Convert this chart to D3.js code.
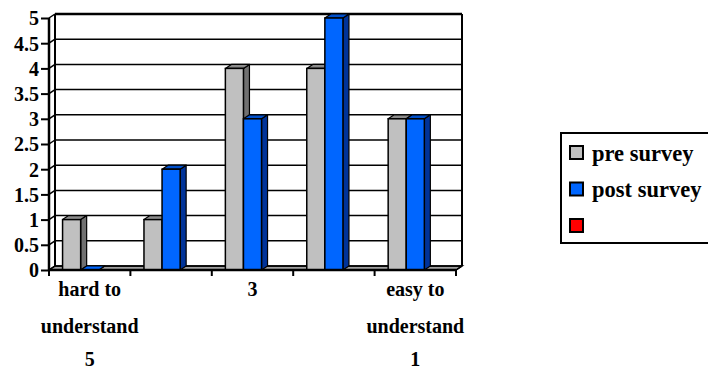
<!DOCTYPE html>
<html>
<head>
<meta charset="utf-8">
<script src="https://cdn.jsdelivr.net/npm/d3@7"></script>
<style>
  html, body { margin: 0; padding: 0; background: #fff; }
</style>
</head>
<body>
<svg id="chart" width="708" height="370"></svg>
<script>
// Survey answers: how easy the material was to understand (5 = hard, 1 = easy)
const categories = ["5", "4", "3", "2", "1"];
const categoryLabels = [["hard to", "understand", "5"], [], ["3"], [], ["easy to", "understand", "1"]];
const seriesNames = ["pre survey", "post survey", ""];
const preSurvey = [1, 1, 4, 4, 3];
const postSurvey = [0, 2, 3, 5, 3];
const thirdSeries = [null, null, null, null, null];
const yTicks = [0, 0.5, 1, 1.5, 2, 2.5, 3, 3.5, 4, 4.5, 5];

const FONT = "Liberation Serif, Tinos, Times New Roman, DejaVu Serif, serif";
const seriesValues = [preSurvey, postSurvey, thirdSeries];
const colors = [
  { front: "#c0c0c0", side: "#707070", top: "#8c8c8c" },
  { front: "#0066ff", side: "#003399", top: "#0050cc" },
  { front: "#ff0000", side: "#990000", top: "#cc0000" }
];

const svg = d3.select("#chart");
const dx = 6, dy = -4;               // depth offset of the 3-D box
const x0 = 49, x1 = 456;

const x = d3.scaleBand().domain(categories).range([x0, x1]).padding(0);
const xs = d3.scaleBand().domain(d3.range(seriesNames.length))
  .range([0, x.bandwidth()]).paddingInner(0).paddingOuter(0.75);
const y = d3.scaleLinear().domain([0, 5]).range([270, 18]);

const g = svg.append("g");

// floor
const y0 = y(0);
g.append("path")
  .attr("d", `M${x0},${y0} L${x1},${y0} L${x1 + dx},${y0 + dy} L${x0 + dx},${y0 + dy} Z`)
  .attr("fill", "#a0a0a0").attr("stroke", "#000").attr("stroke-width", 1.5);

// back wall gridlines and left wall segments
yTicks.forEach(t => {
  const yy = y(t);
  g.append("line")
    .attr("x1", x0 + dx).attr("x2", x1 + dx)
    .attr("y1", yy + dy).attr("y2", yy + dy)
    .attr("stroke", "#000").attr("stroke-width", t === 5 ? 2.5 : 1.5);
  g.append("line")
    .attr("x1", x0).attr("x2", x0 + dx)
    .attr("y1", yy).attr("y2", yy + dy)
    .attr("stroke", "#000").attr("stroke-width", 1.5);
});

// wall edges
g.append("line").attr("x1", x0 + dx).attr("x2", x0 + dx)
  .attr("y1", y(5) + dy).attr("y2", y0 + dy).attr("stroke", "#000").attr("stroke-width", 2);
g.append("line").attr("x1", x1 + dx).attr("x2", x1 + dx)
  .attr("y1", y(5) + dy).attr("y2", y0 + dy).attr("stroke", "#000").attr("stroke-width", 2);
g.append("line").attr("x1", x0).attr("x2", x0)
  .attr("y1", y(5)).attr("y2", y0).attr("stroke", "#000").attr("stroke-width", 2.5);

// bars, drawn left to right so each front face covers the previous side face
categories.forEach((c, ci) => {
  seriesValues.forEach((vals, si) => {
    const v = vals[ci];
    if (v === null || v === undefined) return;
    const bx = x(c) + xs(si);
    const bw = xs.bandwidth();
    const top = y(v);
    const col = colors[si];
    const bar = g.append("g");
    // side face
    bar.append("path")
      .attr("d", `M${bx + bw},${y0} L${bx + bw + dx},${y0 + dy} L${bx + bw + dx},${top + dy} L${bx + bw},${top} Z`)
      .attr("fill", col.side).attr("stroke", "#000").attr("stroke-width", 1.2).attr("stroke-linejoin", "round");
    // top face
    bar.append("path")
      .attr("d", `M${bx},${top} L${bx + dx},${top + dy} L${bx + bw + dx},${top + dy} L${bx + bw},${top} Z`)
      .attr("fill", v === 0 ? col.front : col.top).attr("stroke", "#000").attr("stroke-width", 1.2).attr("stroke-linejoin", "round");
    // front face
    if (v > 0) {
      bar.append("rect")
        .attr("x", bx).attr("y", top).attr("width", bw).attr("height", y0 - top)
        .attr("fill", col.front).attr("stroke", "#000").attr("stroke-width", 1.5);
    }
  });
});

// front axis line
g.append("line").attr("x1", x0).attr("x2", x1).attr("y1", y0).attr("y2", y0)
  .attr("stroke", "#000").attr("stroke-width", 2.5);
// floor right edge
g.append("line").attr("x1", x1).attr("x2", x1 + dx).attr("y1", y0).attr("y2", y0 + dy)
  .attr("stroke", "#000").attr("stroke-width", 1.5);

// y axis
const yAxis = d3.axisLeft(y).tickValues(yTicks).tickSize(8).tickPadding(2)
  .tickFormat(d => d3.format("")(d));
const yg = svg.append("g").attr("transform", `translate(${x0},0)`).call(yAxis)
  .attr("font-family", FONT).attr("font-size", 20).attr("font-weight", "bold");
yg.select(".domain").remove();
yg.selectAll(".tick line").attr("stroke", "#000").attr("stroke-width", 2);
yg.selectAll(".tick text").attr("fill", "#000").attr("dy", "0.34em");

// x axis ticks at category boundaries
const boundaries = categories.map(c => x(c)).concat([x1]);
g.selectAll(".xtick").data(boundaries).join("line")
  .attr("x1", d => d).attr("x2", d => d).attr("y1", y0).attr("y2", y0 + 6)
  .attr("stroke", "#000").attr("stroke-width", 2);

// x labels
const lineY = [296, 333, 366];
categories.forEach((c, ci) => {
  const lines = categoryLabels[ci];
  const cx = x(c) + x.bandwidth() / 2;
  lines.forEach((t, li) => {
    svg.append("text").attr("x", cx).attr("y", lineY[li])
      .attr("text-anchor", "middle").attr("font-family", FONT)
      .attr("font-weight", "bold").attr("font-size", 20).attr("fill", "#000").text(t);
  });
});

// legend
const lg = svg.append("g");
lg.append("rect").attr("x", 561).attr("y", 133).attr("width", 160).attr("height", 110)
  .attr("fill", "#fff").attr("stroke", "#000").attr("stroke-width", 2);
seriesNames.forEach((name, i) => {
  const ly = 146 + i * 36.5;
  lg.append("rect").attr("x", 570).attr("y", ly).attr("width", 13).attr("height", 13)
    .attr("fill", colors[i].front).attr("stroke", "#000").attr("stroke-width", 2);
  lg.append("text").attr("x", 592).attr("y", ly + 14.5)
    .attr("font-family", FONT).attr("font-weight", "bold")
    .attr("font-size", 22.5).attr("fill", "#000").text(name);
});
</script>
</body>
</html>
